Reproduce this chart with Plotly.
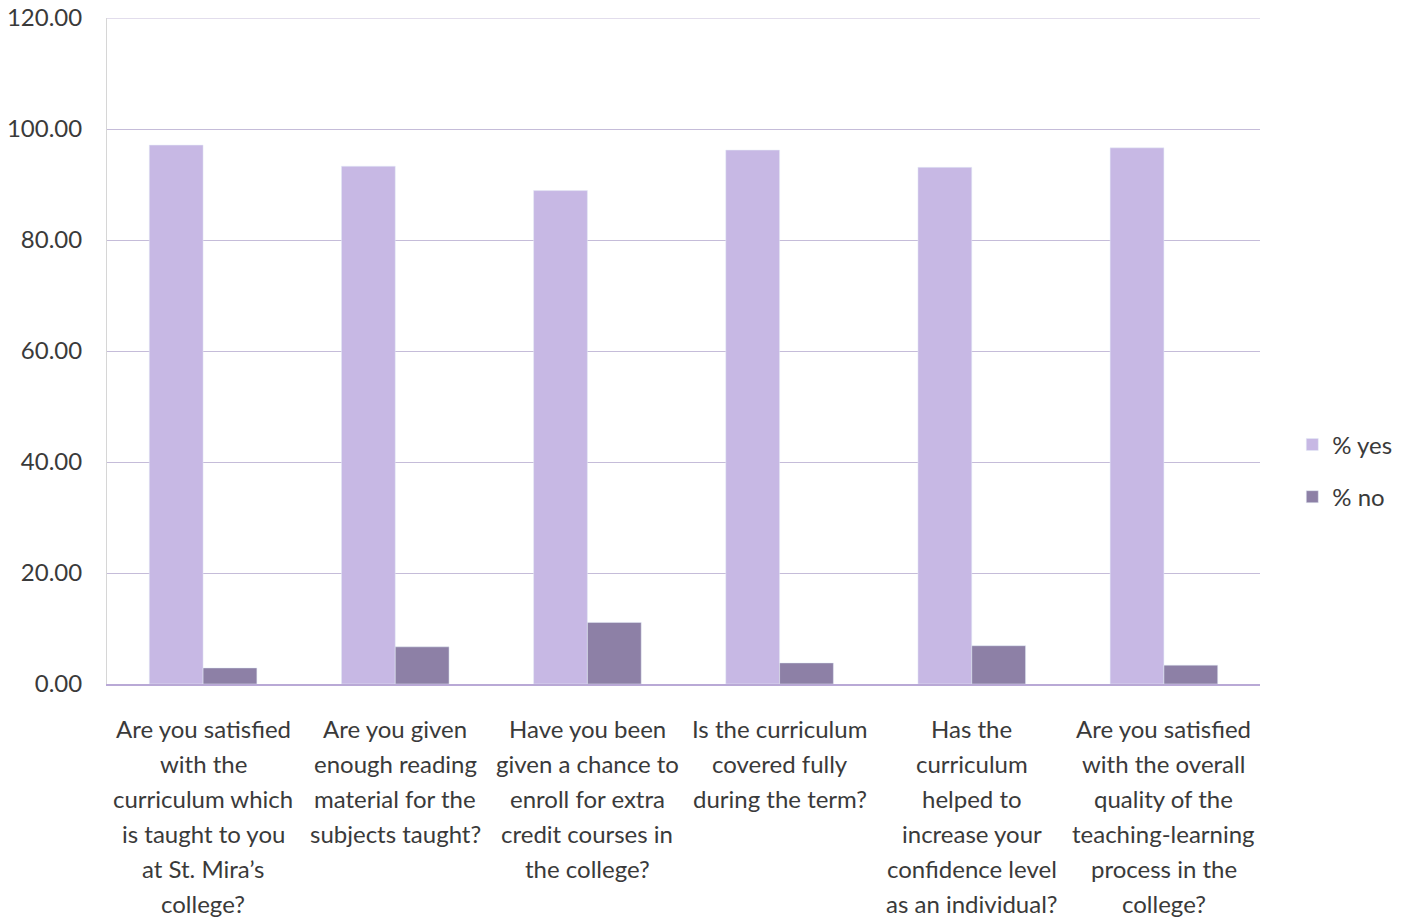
import plotly.graph_objects as go

categories = [
    "Are you satisfied<br>with the<br>curriculum which<br>is taught to you<br>at St. Mira’s<br>college?",
    "Are you given<br>enough reading<br>material for the<br>subjects taught?",
    "Have you been<br>given a chance to<br>enroll for extra<br>credit courses in<br>the college?",
    "Is the curriculum<br>covered fully<br>during the term?",
    "Has the<br>curriculum<br>helped to<br>increase your<br>confidence level<br>as an individual?",
    "Are you satisfied<br>with the overall<br>quality of the<br>teaching-learning<br>process in the<br>college?",
]
yes_values = [97.1, 93.3, 88.9, 96.2, 93.1, 96.6]
no_values = [2.9, 6.7, 11.1, 3.8, 6.9, 3.4]
tick_values = [0, 20, 40, 60, 80, 100, 120]

font_family = "Lato, 'Open Sans', sans-serif"
text_color = "#3a3a3a"

fig = go.Figure()
fig.add_trace(go.Bar(name="% yes", x=categories, y=yes_values, marker_color="#c7b8e4",
                     legendgroup="yes"))
fig.add_trace(go.Bar(name="% no", x=categories, y=no_values, marker_color="#8d80a6",
                     legendgroup="no"))

fig.update_layout(
    barmode="group",
    bargap=0.44,
    bargroupgap=0.0,
    width=1404,
    height=923,
    margin=dict(l=107, r=144, t=18, b=239, autoexpand=False),
    paper_bgcolor="white",
    plot_bgcolor="white",
    font=dict(family=font_family, size=24, color=text_color),
    legend=dict(x=1.028, y=0.32, xanchor="left", yanchor="middle",
                font=dict(size=24, color=text_color), tracegroupgap=18,
                bgcolor="rgba(0,0,0,0)"),
    showlegend=True,
)
fig.update_yaxes(
    range=[0, 120],
    tickvals=tick_values,
    tickformat=".2f",
    showgrid=True,
    gridcolor="#c5bcd9",
    gridwidth=1,
    zeroline=False,
    showline=True,
    linecolor="#d6d6d6",
    ticks="",
    ticklabelstandoff=19,
    ticklabeloverflow="allow",
    tickfont=dict(size=24, color=text_color),
)
fig.update_xaxes(
    showline=True,
    linecolor="#b9a9d6",
    linewidth=2,
    ticks="",
    showticklabels=False,
)
fig.add_shape(type="line", xref="paper", yref="y", x0=0, x1=1, y0=120, y1=120,
              line=dict(color="#c5bcd9", width=1))

# Category labels, one text line per annotation so line spacing matches
for cat in categories:
    for i, line in enumerate(cat.split("<br>")):
        fig.add_annotation(x=cat, xref="x", y=0, yref="paper", text=line,
                           showarrow=False, yanchor="middle", xanchor="center",
                           yshift=-(44 + 35 * i),
                           font=dict(size=24, color=text_color, family=font_family))

fig.write_html("out.html", config={"displayModeBar": False},
               post_script="document.body.style.margin='0';")
